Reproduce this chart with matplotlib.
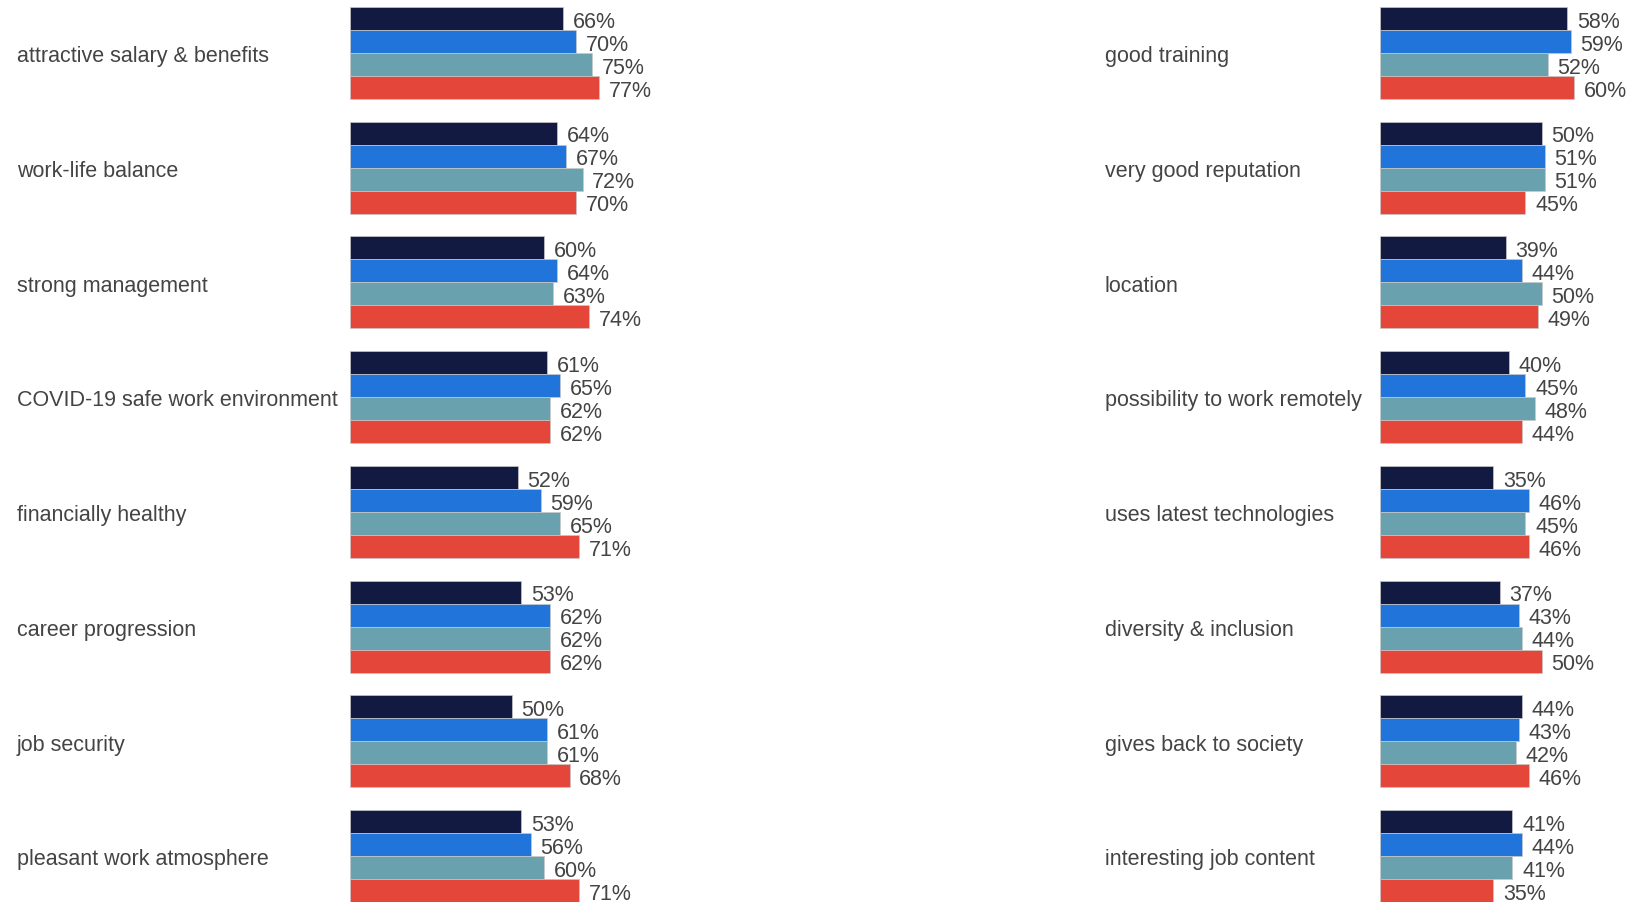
import matplotlib
matplotlib.use("Agg")
import matplotlib.pyplot as plt
from matplotlib.transforms import blended_transform_factory

# Employer attributes, four survey series per attribute (top to bottom)
left_labels = ["attractive salary & benefits", "work-life balance", "strong management",
               "COVID-19 safe work environment", "financially healthy", "career progression",
               "job security", "pleasant work atmosphere"]
left_values = [
    [66, 70, 75, 77],
    [64, 67, 72, 70],
    [60, 64, 63, 74],
    [61, 65, 62, 62],
    [52, 59, 65, 71],
    [53, 62, 62, 62],
    [50, 61, 61, 68],
    [53, 56, 60, 71],
]

right_labels = ["good training", "very good reputation", "location",
                "possibility to work remotely", "uses latest technologies",
                "diversity & inclusion", "gives back to society", "interesting job content"]
right_values = [
    [58, 59, 52, 60],
    [50, 51, 51, 45],
    [39, 44, 50, 49],
    [40, 45, 48, 44],
    [35, 46, 45, 46],
    [37, 43, 44, 50],
    [44, 43, 42, 46],
    [41, 44, 41, 35],
]

colors = ["#121a42", "#2174d9", "#6aa1ae", "#e4463a"]
text_color = "#444444"
font = ["Liberation Sans", "DejaVu Sans"]

W, H = 1629, 904
fig = plt.figure(figsize=(W / 100, H / 100), dpi=100)

bar_top, bar_bottom = 8, 903
px_per_pct = 3.23


def panel(x0, label_x, labels, values):
    ax = fig.add_axes([x0 / W, (H - bar_bottom) / H, 100 * px_per_pct / W,
                       (bar_bottom - bar_top) / H])
    # category label: x in figure pixels, y in data units
    lab_tr = blended_transform_factory(fig.transFigure, ax.transData)
    for i, (lab, vals) in enumerate(zip(labels, values)):
        base = i * 5
        for j, v in enumerate(vals):
            y = base + j
            ax.barh(y, v, height=1.0, color=colors[j], edgecolor="#c8c8c8", linewidth=0.5)
            ax.text(v + 3, y + 0.12, f"{v}%", va="center", ha="left", fontsize=15.5,
                    color=text_color, family=font, clip_on=False)
        ax.text(label_x / W, base + 1.62, lab, transform=lab_tr,
                va="center", ha="left", fontsize=15.5, color=text_color, family=font)
    ax.set_xlim(0, 100)
    ax.set_ylim(len(labels) * 5 - 1.5, -0.5)
    ax.axis("off")
    return ax


panel(350, 17, left_labels, left_values)
panel(1380, 1105, right_labels, right_values)

fig.savefig("out.png", dpi=100, facecolor="white")
